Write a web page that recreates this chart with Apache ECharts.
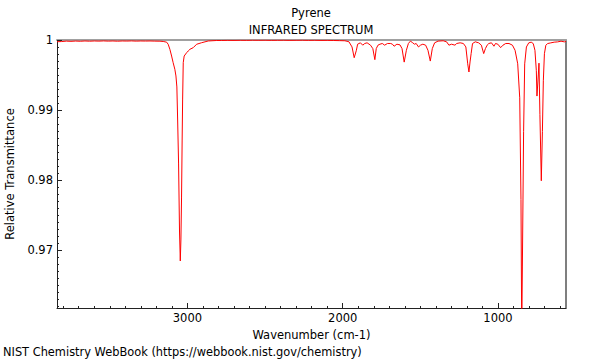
<!DOCTYPE html>
<html>
<head>
<meta charset="utf-8">
<script src="https://cdn.jsdelivr.net/npm/echarts@6/dist/echarts.min.js"></script>
<style>html,body{margin:0;padding:0;background:#fff;}#c{width:600px;height:360px;}</style>
</head>
<body>
<div id="c"></div>
<script>
// Wavenumber (cm-1), descending
var wavenumbers = [
3840,3810,3780,3750,3720,3690,3660,3630,3600,3570,3540,3510,3480,3450,3420,3390,3360,3330,3300,3270,3241,3210,3177,3156,
3134,3124,3113,3102,3092,3081,3074,3068,3063,3057,3051,3046,3042,3038,3034,3031,3027,3021,3005,2995,2984,2963,2941,2909,2866,2812,
2780,2740,2700,2660,2620,2580,2540,2500,2460,2420,2380,2340,2300,2260,2220,2180,2140,2100,2060,2020,1986,1960,
1940,1926,1912,1904,1886,1871,1858,1843,1821,1806,1793,1784,1773,1760,1745,1730,1712,1691,1680,1669,1651,1631,1618,1604,1590,1577,1564,
1549,1538,1527,1512,1499,1484,1466,1451,1436,1423,1408,1386,1353,1331,1316,1299,1277,1266,1244,1223,1207,1195,1187,1180,1173,1164,1146,
1125,1107,1092,1081,1070,1059,1042,1026,1016,1001,983,968,950,929,907,890,873,860,852,847,843,835,828,817,802,786,773,762,753,749,740,736,
730,721,714,708,701,692,681,660,638,616,594,572,562
];
// Relative transmittance
var transmittance = [
0.99975,0.99978,0.99984,0.99981,0.99985,0.99982,0.99986,0.99983,0.99986,0.99984,0.99987,0.99984,0.99986,0.99983,0.99986,0.99985,0.99987,0.99984,0.99986,0.99985,0.99986,0.99984,0.99983,0.99979,
0.99969,0.99939,0.99867,0.99771,0.99676,0.99581,0.99486,0.99329,0.98857,0.98229,0.97271,0.96843,0.97143,0.97743,0.98571,0.99143,0.99676,0.99771,0.99819,0.99843,0.99867,0.9989,0.99939,0.99961,0.99986,0.99993,
0.99993,0.99995,0.99994,0.99996,0.99995,0.99997,0.99996,0.99997,0.99995,0.99996,0.99997,0.99995,0.99996,0.99997,0.99995,0.99996,0.99994,0.99995,0.99993,0.99991,0.99989,0.99975,
0.99901,0.99747,0.99853,0.9994,0.9996,0.99926,0.9995,0.9996,0.99926,0.99877,0.99719,0.99877,0.99926,0.9994,0.9995,0.99926,0.9995,0.9995,0.9994,0.99911,0.9994,0.9993,0.99877,0.99684,0.99853,0.9995,0.99984,
0.9996,0.9994,0.9995,0.99901,0.99926,0.9994,0.99926,0.99853,0.99699,0.99877,0.9996,0.99984,0.99989,0.99974,0.99926,0.9994,0.99926,0.9995,0.9996,0.9995,0.99901,0.9966,0.99543,0.99686,0.99806,0.9995,0.99974,
0.9996,0.99926,0.99806,0.99877,0.99926,0.9995,0.9996,0.99911,0.9995,0.9994,0.99891,0.99926,0.9995,0.9995,0.99926,0.99853,0.9966,0.99174,0.97721,0.958,0.96757,0.9869,0.99659,0.999,0.99959,0.99969,0.99949,0.99853,0.99561,0.99199,0.99514,0.99669,
0.98933,0.97989,0.9869,0.99417,0.99804,0.99924,0.99949,0.99959,0.99969,0.99973,0.99983,0.99973,0.99983
];
var xMajorTicks = [1000, 2000, 3000];
var yMajorTicks = [0.97, 0.98, 0.99, 1];
var xRange = [562, 3840];
var yRange = [0.96171, 1];

var seriesData = wavenumbers.map(function (w, i) { return [w, transmittance[i]]; });
var xMinor = [];
for (var v = 600; v <= 3800; v += 100) xMinor.push(v);
var yMinor = [];
for (var k = 962; k <= 999; k++) yMinor.push(k / 1000);

var FONT = 'DejaVu Sans';
var FS = 11.5;
var chart = echarts.init(document.getElementById('c'), null, { renderer: 'svg' });
chart.setOption({
  animation: false,
  backgroundColor: '#fff',
  textStyle: { fontFamily: FONT },
  grid: { left: 57, right: 34, top: 40, bottom: 52, containLabel: false, outerBoundsMode: 'none' },
  graphic: [
    { type: 'text', x: 311, y: 13, style: { text: 'Pyrene', fill: '#000', font: FS + 'px "DejaVu Sans"', textAlign: 'center', textVerticalAlign: 'middle' } },
    { type: 'text', x: 311, y: 30, style: { text: 'INFRARED SPECTRUM', fill: '#000', font: FS + 'px "DejaVu Sans"', textAlign: 'center', textVerticalAlign: 'middle' } },
    { type: 'text', x: 3, y: 352, style: { text: 'NIST Chemistry WebBook (https://webbook.nist.gov/chemistry)', fill: '#000', font: '11.4px "DejaVu Sans"', textAlign: 'left', textVerticalAlign: 'middle' } }
  ],
  xAxis: [
    {
      type: 'value', inverse: true, min: xRange[0], max: xRange[1], position: 'bottom',
      name: 'Wavenumber (cm-1)', nameLocation: 'middle', nameGap: 18,
      nameTextStyle: { color: '#000', fontSize: FS, fontFamily: FONT },
      axisLine: { show: true, onZero: false, lineStyle: { color: '#222', width: 1 } },
      axisTick: { show: true, inside: true, length: 5, customValues: xMajorTicks, lineStyle: { color: '#222' } },
      axisLabel: { show: true, customValues: xMajorTicks, color: '#000', fontSize: FS, fontFamily: FONT, margin: 4,
        formatter: function (v) { return String(v); } },
      splitLine: { show: false }
    },
    {
      type: 'value', inverse: true, min: xRange[0], max: xRange[1], position: 'bottom',
      axisLine: { show: false },
      axisTick: { show: true, inside: true, length: 2, customValues: xMinor, lineStyle: { color: '#222' } },
      axisLabel: { show: false },
      splitLine: { show: false }
    },
    {
      type: 'value', inverse: true, min: xRange[0], max: xRange[1], position: 'top',
      axisLine: { show: true, onZero: false, lineStyle: { color: '#a0a0a0', width: 2 } },
      axisTick: { show: false }, axisLabel: { show: false }, splitLine: { show: false }
    }
  ],
  yAxis: [
    {
      type: 'value', min: yRange[0], max: yRange[1], position: 'left',
      name: 'Relative Transmittance', nameLocation: 'middle', nameGap: 41, nameRotate: 90,
      nameTextStyle: { color: '#000', fontSize: FS, fontFamily: FONT },
      axisLine: { show: true, onZero: false, lineStyle: { color: '#222', width: 1 } },
      axisTick: { show: true, inside: true, length: 5, customValues: yMajorTicks, lineStyle: { color: '#222' } },
      axisLabel: { show: true, customValues: yMajorTicks, color: '#000', fontSize: FS, fontFamily: FONT, margin: 4,
        formatter: function (v) { return String(v); } },
      splitLine: { show: false }
    },
    {
      type: 'value', min: yRange[0], max: yRange[1], position: 'left',
      axisLine: { show: false },
      axisTick: { show: true, inside: true, length: 2, customValues: yMinor, lineStyle: { color: '#222' } },
      axisLabel: { show: false }, splitLine: { show: false }
    },
    {
      type: 'value', min: yRange[0], max: yRange[1], position: 'right',
      axisLine: { show: true, onZero: false, lineStyle: { color: '#555', width: 1.5 } },
      axisTick: { show: false }, axisLabel: { show: false }, splitLine: { show: false }
    }
  ],
  series: [{
    type: 'line', xAxisIndex: 0, yAxisIndex: 0, data: seriesData,
    showSymbol: false, symbol: 'none', smooth: false, clip: true,
    lineStyle: { color: '#ff0000', width: 1 }
  }]
});
</script>
</body>
</html>
